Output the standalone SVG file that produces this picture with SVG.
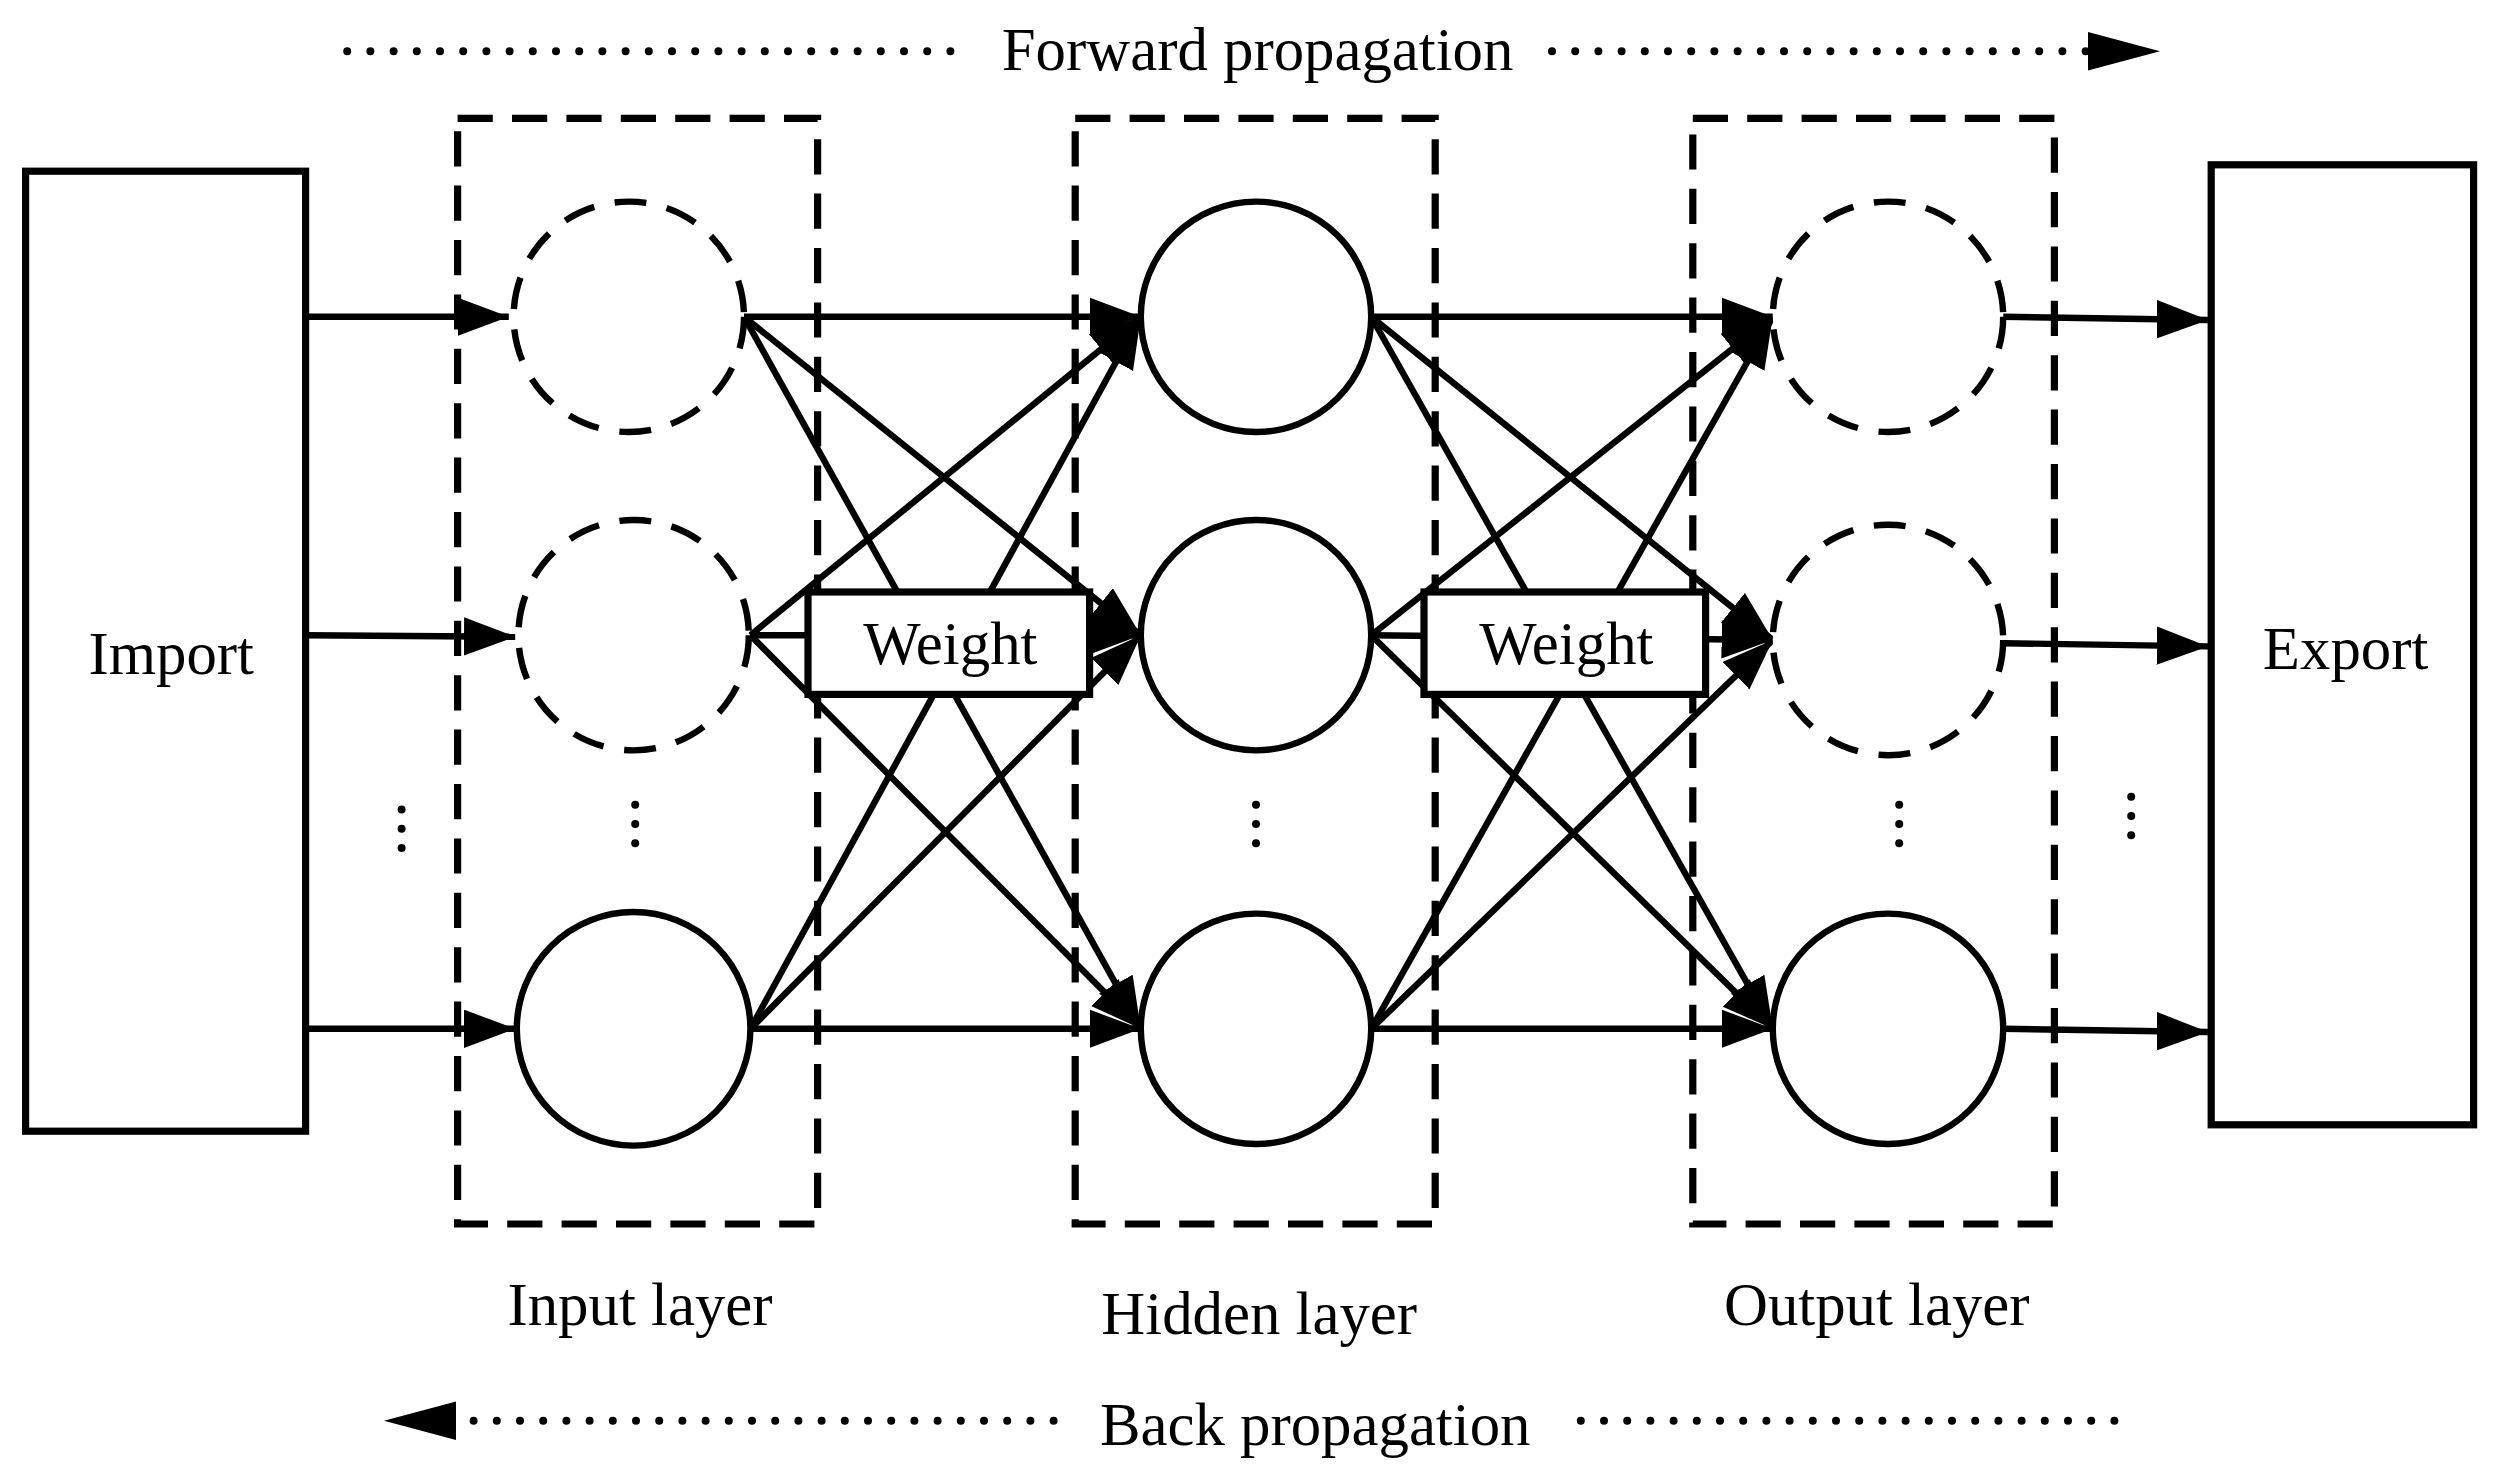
<svg xmlns="http://www.w3.org/2000/svg" width="2496" height="1476" viewBox="0 0 2496 1476">
<style>
.t{font-family:"Liberation Serif","Times New Roman",serif;font-size:38px;fill:#000;text-anchor:middle}
.box{fill:#fff;stroke:#000;stroke-width:4.5}
.layer{fill:none;stroke:#000;stroke-width:4.5;stroke-dasharray:22 12}
.dn{fill:#fff;stroke:#000;stroke-width:4;stroke-dasharray:20 13}
.sn{fill:#fff;stroke:#000;stroke-width:4}
.c line{stroke:#000;stroke-width:4;marker-end:url(#ah)}
.dots{stroke:#000;stroke-width:5;stroke-linecap:round;stroke-dasharray:0 14.5;fill:none}
</style>
<defs>
<marker id="ah" markerUnits="userSpaceOnUse" markerWidth="34" markerHeight="26" refX="32" refY="12" orient="auto">
<path d="M0,0 L32,12 L0,24 Z" fill="#000"/>
</marker>
</defs>
<rect width="2496" height="1476" fill="#fff"/>
<g transform="scale(1.6)">
<g id="layers">
<rect class="layer" x="286" y="74" width="225" height="691"/>
<rect class="layer" x="672" y="74" width="225" height="691"/>
<rect class="layer" x="1058" y="74" width="226" height="691"/>
</g>
<g id="import"><rect class="box" x="16" y="107" width="175" height="600"/><text class="t" x="107" y="421">Import</text></g>
<g id="export"><rect class="box" x="1382" y="103" width="164" height="600"/><text class="t" x="1466" y="418">Export</text></g>
<g id="connectors" class="c">
<line x1="191" y1="198" x2="318" y2="198"/>
<line x1="191" y1="397" x2="322" y2="398"/>
<line x1="191" y1="643" x2="322" y2="643"/>
<line x1="1252" y1="198" x2="1380" y2="200"/>
<line x1="1252" y1="402" x2="1380" y2="404"/>
<line x1="1252" y1="643" x2="1380" y2="645"/>
<line x1="465" y1="198" x2="713" y2="198"/>
<line x1="465" y1="198" x2="713" y2="397"/>
<line x1="465" y1="198" x2="713" y2="643"/>
<line x1="469" y1="397" x2="713" y2="198"/>
<line x1="469" y1="397" x2="713" y2="397"/>
<line x1="469" y1="397" x2="713" y2="643"/>
<line x1="469" y1="643" x2="713" y2="198"/>
<line x1="469" y1="643" x2="713" y2="397"/>
<line x1="469" y1="643" x2="713" y2="643"/>
<line x1="857" y1="198" x2="1108" y2="198"/>
<line x1="857" y1="198" x2="1108" y2="400"/>
<line x1="857" y1="198" x2="1108" y2="643"/>
<line x1="857" y1="397" x2="1108" y2="198"/>
<line x1="857" y1="397" x2="1108" y2="400"/>
<line x1="857" y1="397" x2="1108" y2="643"/>
<line x1="857" y1="643" x2="1108" y2="198"/>
<line x1="857" y1="643" x2="1108" y2="400"/>
<line x1="857" y1="643" x2="1108" y2="643"/>
</g>
<g id="input-nodes">
<circle class="dn" cx="393" cy="198" r="72"/>
<circle class="dn" cx="396" cy="397" r="72"/>
<circle class="sn" cx="396" cy="643" r="73"/>
</g>
<g id="hidden-nodes">
<circle class="sn" cx="785" cy="198" r="72"/>
<circle class="sn" cx="785" cy="397" r="72"/>
<circle class="sn" cx="785" cy="643" r="72"/>
</g>
<g id="output-nodes">
<circle class="dn" cx="1180" cy="198" r="72"/>
<circle class="dn" cx="1180" cy="400" r="72"/>
<circle class="sn" cx="1180" cy="643" r="72"/>
</g>
<g id="weight1"><rect class="box" x="505" y="370" width="176" height="64"/><text class="t" x="594" y="415">Weight</text></g>
<g id="weight2"><rect class="box" x="890" y="370" width="176" height="64"/><text class="t" x="979" y="415">Weight</text></g>
<g id="vdots" fill="#000">
<circle cx="251" cy="506" r="2.5"/><circle cx="251" cy="518" r="2.5"/><circle cx="251" cy="530" r="2.5"/>
<circle cx="397" cy="503" r="2.5"/><circle cx="397" cy="515" r="2.5"/><circle cx="397" cy="527" r="2.5"/>
<circle cx="785" cy="503" r="2.5"/><circle cx="785" cy="515" r="2.5"/><circle cx="785" cy="527" r="2.5"/>
<circle cx="1187" cy="503" r="2.5"/><circle cx="1187" cy="515" r="2.5"/><circle cx="1187" cy="527" r="2.5"/>
<circle cx="1332" cy="498" r="2.5"/><circle cx="1332" cy="510" r="2.5"/><circle cx="1332" cy="522" r="2.5"/>
</g>
<g id="forward">
<path class="dots" d="M217,32 H600"/>
<path class="dots" d="M970,32 H1305"/>
<path d="M1305,20 L1350,32 L1305,44 Z" fill="#000"/>
<text class="t" x="786" y="44">Forward propagation</text>
</g>
<g id="back">
<path d="M285,876 L240,888 L285,900 Z" fill="#000"/>
<path class="dots" d="M296,888 H660"/>
<path class="dots" d="M988,888 H1325"/>
<text class="t" x="822" y="903">Back propagation</text>
</g>
<g id="labels">
<text class="t" x="400" y="828">Input layer</text>
<text class="t" x="787" y="834">Hidden layer</text>
<text class="t" x="1173" y="828">Output layer</text>
</g>
</g>
</svg>
